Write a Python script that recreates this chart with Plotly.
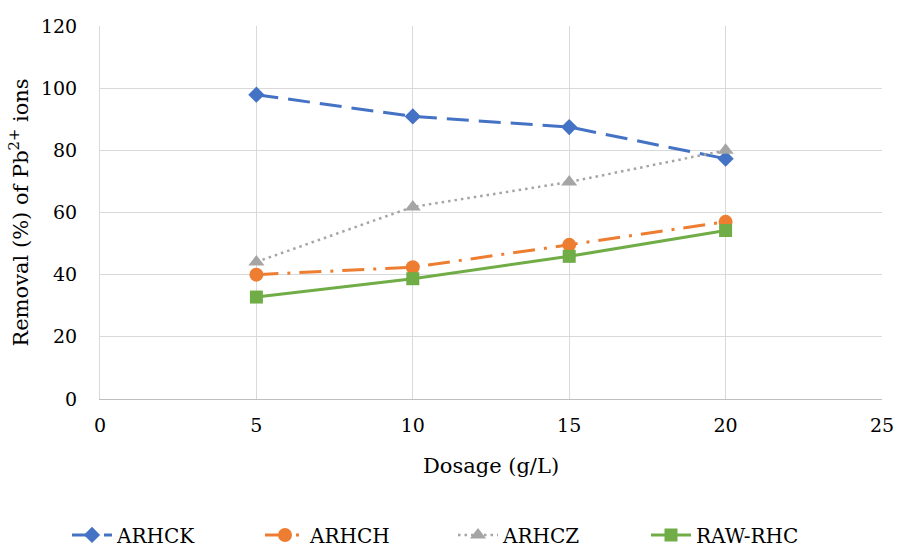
import plotly.graph_objects as go

dosage = [5, 10, 15, 20]
arhck = [97.9, 90.9, 87.5, 77.3]
arhch = [40.0, 42.4, 49.6, 57.0]
arhcz = [44.1, 61.8, 69.8, 80.0]
raw_rhc = [32.8, 38.7, 45.9, 54.2]

x_ticks = [0, 5, 10, 15, 20, 25]
y_ticks = [0, 20, 40, 60, 80, 100, 120]

FONT = "DejaVu Serif"

fig = go.Figure()
fig.add_trace(go.Scatter(
    x=dosage, y=arhck, name="ARHCK", mode="lines+markers",
    line=dict(color="#4472C4", width=3, dash="22px,10px"),
    marker=dict(symbol="diamond", size=12.5, color="#4472C4")))
fig.add_trace(go.Scatter(
    x=dosage, y=arhch, name="ARHCH", mode="lines+markers",
    line=dict(color="#ED7D31", width=3, dash="22px,9px,3px,9px"),
    marker=dict(symbol="circle", size=14, color="#ED7D31")))
fig.add_trace(go.Scatter(
    x=dosage, y=arhcz, name="ARHCZ", mode="lines+markers",
    line=dict(color="#A5A5A5", width=2.5, dash="2.5px,4px"),
    marker=dict(symbol="triangle-up", size=14, color="#A5A5A5")))
fig.add_trace(go.Scatter(
    x=dosage, y=raw_rhc, name="RAW-RHC", mode="lines+markers",
    line=dict(color="#70AD47", width=3),
    marker=dict(symbol="square", size=13, color="#70AD47")))

fig.update_layout(
    width=906, height=547,
    margin=dict(l=100, r=14, t=26, b=148),
    paper_bgcolor="white", plot_bgcolor="white",
    font=dict(family=FONT, size=19, color="#000000"),
    showlegend=True,
    legend=dict(orientation="h", xref="container", yref="container",
                x=0.5, xanchor="center", y=0.022, yanchor="middle",
                font=dict(family=FONT, size=20, color="#000000"),
                itemwidth=40, entrywidth=138, entrywidthmode="pixels"),
    xaxis=dict(range=[0, 25], tickvals=x_ticks, showgrid=True,
               gridcolor="#D9D9D9", gridwidth=1, zeroline=False,
               showline=True, linecolor="#BFBFBF", linewidth=1,
               ticks="", ticklabelstandoff=9,
               tickfont=dict(family=FONT, size=19),
               title=dict(text="Dosage (g/L)", standoff=23,
                          font=dict(family=FONT, size=21))),
    yaxis=dict(range=[0, 120], tickvals=y_ticks, showgrid=True,
               gridcolor="#D9D9D9", gridwidth=1, zeroline=False,
               showline=True, linecolor="#D9D9D9", linewidth=1,
               ticks="", ticklabelstandoff=18,
               tickfont=dict(family=FONT, size=19),
               title=dict(text="Removal (%) of Pb<sup>2+</sup> ions", standoff=6,
                          font=dict(family=FONT, size=21))),
)

fig.write_html("out.html")
